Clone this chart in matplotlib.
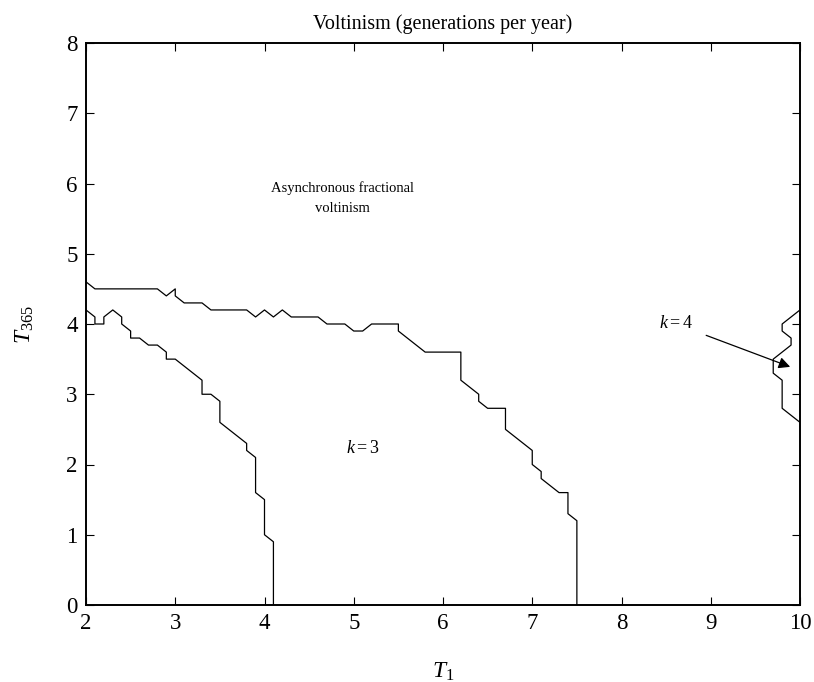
import matplotlib
matplotlib.use("Agg")
import matplotlib.pyplot as plt

plt.rcParams['font.family'] = ['Liberation Serif', 'DejaVu Serif']
plt.rcParams['mathtext.fontset'] = 'custom'
plt.rcParams['mathtext.rm'] = 'Liberation Serif'
plt.rcParams['mathtext.it'] = 'Liberation Serif:italic'

# upper boundary (asynchronous / k=3)
upper_x = [2.0, 2.1, 2.8, 2.9, 3.0, 3.0, 3.1, 3.3, 3.4, 3.8, 3.9, 4.0, 4.1, 4.2, 4.3,
           4.6, 4.7, 4.9, 5.0, 5.1, 5.2, 5.5, 5.5, 5.8, 6.2, 6.2, 6.4, 6.4, 6.5, 6.7,
           6.7, 7.0, 7.0, 7.1, 7.1, 7.3, 7.4, 7.4, 7.5, 7.5]
upper_y = [4.6, 4.5, 4.5, 4.4, 4.5, 4.4, 4.3, 4.3, 4.2, 4.2, 4.1, 4.2, 4.1, 4.2, 4.1,
           4.1, 4.0, 4.0, 3.9, 3.9, 4.0, 4.0, 3.9, 3.6, 3.6, 3.2, 3.0, 2.9, 2.8, 2.8,
           2.5, 2.2, 2.0, 1.9, 1.8, 1.6, 1.6, 1.3, 1.2, 0.0]

# lower boundary
lower_x = [2.0, 2.1, 2.1, 2.2, 2.2, 2.3, 2.4, 2.4, 2.5, 2.5, 2.6, 2.7, 2.8, 2.9, 2.9,
           3.0, 3.3, 3.3, 3.4, 3.5, 3.5, 3.8, 3.8, 3.9, 3.9, 4.0, 4.0, 4.1, 4.1]
lower_y = [4.2, 4.1, 4.0, 4.0, 4.1, 4.2, 4.1, 4.0, 3.9, 3.8, 3.8, 3.7, 3.7, 3.6, 3.5,
           3.5, 3.2, 3.0, 3.0, 2.9, 2.6, 2.3, 2.2, 2.1, 1.6, 1.5, 1.0, 0.9, 0.0]

# k=4 region boundary near right edge
right_x = [10.0, 9.8, 9.8, 9.9, 9.9, 9.7, 9.7, 9.8, 9.8, 10.0]
right_y = [4.2, 4.0, 3.9, 3.8, 3.7, 3.5, 3.3, 3.2, 2.8, 2.6]

x_ticks = [2, 3, 4, 5, 6, 7, 8, 9, 10]
y_ticks = [0, 1, 2, 3, 4, 5, 6, 7, 8]

fig = plt.figure(figsize=(8.14, 6.82), dpi=100)
ax = fig.add_axes([86/814, 77/682, 714/814, 562/682])

for xs, ys in [(upper_x, upper_y), (lower_x, lower_y), (right_x, right_y)]:
    ax.plot(xs, ys, color='black', linewidth=0.9)

ax.set_xlim(2, 10)
ax.set_ylim(0, 8)
ax.set_xticks(x_ticks)
ax.set_yticks(y_ticks)
ax.tick_params(direction='in', length=6, width=0.8, labelsize=16.5,
               top=True, right=True, pad=6)
for s in ax.spines.values():
    s.set_linewidth(1.4)

ax.set_title('Voltinism (generations per year)', fontsize=14.5, pad=10)
ax.set_xlabel('$T_1$', fontsize=17, labelpad=19)
ax.set_ylabel('$T_{365}$', fontsize=17, labelpad=22)

ax.text(4.87, 5.79, 'Asynchronous fractional\nvoltinism', ha='center', va='center',
        fontsize=10.5, linespacing=1.65)
ax.text(5.10, 2.23, '$k=3$', ha='center', va='center', fontsize=13)
ax.annotate('$k=4$', xy=(9.89, 3.39), xytext=(8.61, 4.0), ha='center', va='center',
            fontsize=13,
            arrowprops=dict(arrowstyle='-|>', color='black', lw=0.9,
                            mutation_scale=17, shrinkA=8, shrinkB=0))

fig.savefig('out.png', dpi=100)
